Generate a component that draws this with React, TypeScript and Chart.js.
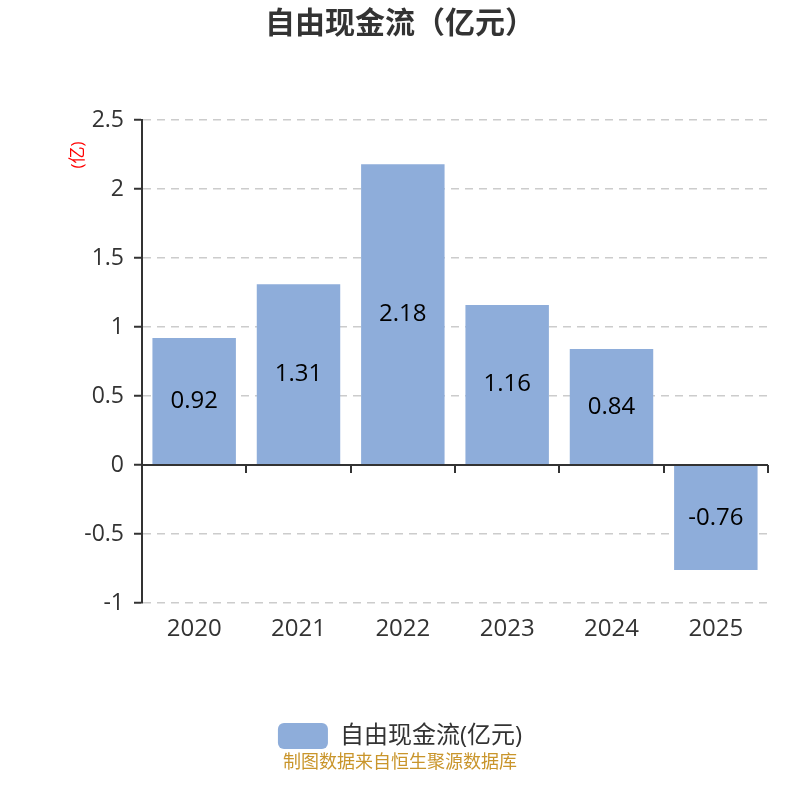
import React, { useEffect, useRef } from 'react';
import { Chart, registerables } from 'chart.js';

Chart.register(...registerables);

const years = ['2020', '2021', '2022', '2023', '2024', '2025'];
const freeCashFlow = [0.92, 1.31, 2.18, 1.16, 0.84, -0.76];
const seriesName = '自由现金流(亿元)';
const chartTitle = '自由现金流（亿元）';
const unitLabel = '(亿)';
const sourceNote = '制图数据来自恒生聚源数据库';

const FONT = '"Open Sans", "Noto Sans CJK SC", sans-serif';
const BAR_COLOR = '#8EADDA';
const AXIS_COLOR = '#333333';

// zero line with tick marks between categories, like an axis sitting at 0
const zeroAxisPlugin = {
  id: 'zeroAxis',
  afterDatasetsDraw(chart: any) {
    const { ctx, chartArea, scales } = chart;
    const x = scales.x;
    const y0 = scales.y.getPixelForValue(0);
    ctx.save();
    ctx.strokeStyle = AXIS_COLOR;
    ctx.lineWidth = 2;
    ctx.beginPath();
    ctx.moveTo(chartArea.left, y0);
    ctx.lineTo(chartArea.right, y0);
    for (let i = 1; i <= years.length; i++) {
      const px = Math.round(x.getPixelForValue(i - 0.5));
      ctx.moveTo(px, y0);
      ctx.lineTo(px, y0 + 8);
    }
    ctx.stroke();
    ctx.restore();
  },
};

const valueLabelPlugin = {
  id: 'valueLabels',
  afterDatasetsDraw(chart: any) {
    const { ctx } = chart;
    const meta = chart.getDatasetMeta(0);
    ctx.save();
    ctx.font = `24px ${FONT}`;
    ctx.fillStyle = '#000';
    ctx.textAlign = 'center';
    ctx.textBaseline = 'middle';
    meta.data.forEach((bar: any, i: number) => {
      const { x, y, base } = bar.getProps(['x', 'y', 'base'], true);
      ctx.fillText(String(freeCashFlow[i]), x, (y + base) / 2);
    });
    ctx.restore();
  },
};

// unit note beside the y axis and the source line at the foot
const notesPlugin = {
  id: 'notes',
  afterDraw(chart: any) {
    const { ctx, width } = chart;
    ctx.save();
    ctx.font = `18px ${FONT}`;
    ctx.fillStyle = '#C9952B';
    ctx.textAlign = 'center';
    ctx.textBaseline = 'middle';
    ctx.fillText(sourceNote, width / 2, 763);

    ctx.translate(78, 155);
    ctx.rotate(-Math.PI / 2);
    ctx.font = `17px ${FONT}`;
    ctx.fillStyle = '#ff0000';
    ctx.fillText(unitLabel, 0, 0);
    ctx.restore();
  },
};

export default function App() {
  const canvasRef = useRef<HTMLCanvasElement>(null);
  const chartRef = useRef<Chart | null>(null);

  useEffect(() => {
    document.body.style.margin = '0';
    const ctx = canvasRef.current!.getContext('2d')!;
    if (chartRef.current) chartRef.current.destroy();

    chartRef.current = new Chart(ctx, {
      type: 'bar',
      data: {
        labels: years,
        datasets: [
          {
            label: seriesName,
            data: freeCashFlow,
            backgroundColor: BAR_COLOR,
            barPercentage: 0.8,
            categoryPercentage: 1,
          },
        ],
      },
      options: {
        animation: false,
        responsive: false,
        maintainAspectRatio: false,
        layout: { padding: { left: 0, right: 0, top: 0, bottom: 41 } },
        plugins: {
          title: {
            display: true,
            text: chartTitle,
            color: AXIS_COLOR,
            font: { family: FONT, size: 30, weight: 'bold' },
            padding: { top: 6, bottom: 78 },
          },
          legend: {
            position: 'bottom',
            labels: {
              color: AXIS_COLOR,
              font: { family: FONT, size: 24 },
              boxWidth: 50,
              boxHeight: 26,
              useBorderRadius: true,
              borderRadius: 6,
              padding: 4,
            },
          },
          tooltip: { enabled: false },
        },
        scales: {
          x: {
            grid: { display: false },
            border: { display: false },
            ticks: {
              color: AXIS_COLOR,
              font: { family: FONT, size: 24 },
              padding: 4,
            },
            afterFit: (scale: any) => {
              scale.height = 116;
            },
          },
          y: {
            min: -1,
            max: 2.5,
            ticks: {
              stepSize: 0.5,
              color: AXIS_COLOR,
              font: { family: FONT, size: 23 },
              padding: 10,
              callback: (v: any) => String(Number(v)),
            },
            grid: {
              color: (c: any) => (c.tick && c.tick.value === 0 ? 'rgba(0,0,0,0)' : '#cccccc'),
              tickColor: AXIS_COLOR,
              tickLength: 8,
              lineWidth: 1.5,
              tickWidth: 2,
            },
            border: { display: true, color: AXIS_COLOR, width: 2, dash: [8, 6] },
            afterFit: (scale: any) => {
              scale.width = 142;
            },
          },
          // empty right-hand spacer so the plot stops at 768 while title/legend stay centred on the page
          spacer: {
            type: 'linear',
            position: 'right',
            display: true,
            grid: { display: false },
            border: { display: false },
            ticks: { display: false },
            afterFit: (scale: any) => {
              scale.width = 32;
            },
          },
        },
      },
      plugins: [zeroAxisPlugin, valueLabelPlugin, notesPlugin],
    });

    return () => {
      if (chartRef.current) {
        chartRef.current.destroy();
        chartRef.current = null;
      }
    };
  }, []);

  return (
    <div style={{ width: 800, height: 800, position: 'relative', background: '#fff' }}>
      <canvas ref={canvasRef} width={800} height={800} style={{ width: 800, height: 800 }} />
    </div>
  );
}
